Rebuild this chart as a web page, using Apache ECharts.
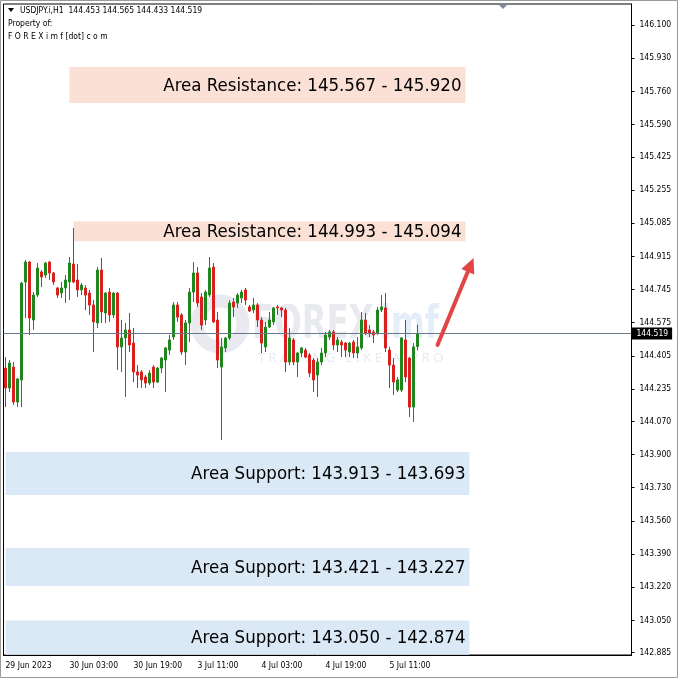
<!DOCTYPE html>
<html><head><meta charset="utf-8">
<script src="https://cdn.jsdelivr.net/npm/echarts@6/dist/echarts.min.js"></script>
<style>html,body{margin:0;padding:0;background:#fff;overflow:hidden}#c{width:678px;height:678px}</style>
</head><body><div id="c"></div>
<script>
// ---- data ----
const headerText = 'USDJPY.i,H1  144.453 144.565 144.433 144.519';
const firstBarTime = Date.UTC(2023, 5, 29, 11); // 29 Jun 2023 11:00
const openP  = [144.343,144.241,144.348,144.169,144.282,144.784,144.886,144.589,144.717,144.835,144.819,144.886,144.830,144.753,144.727,144.753,144.784,144.876,144.794,144.743,144.753,144.727,144.666,144.574,144.845,144.625,144.732,144.615,144.727,144.451,144.497,144.538,144.471,144.323,144.323,144.297,144.266,144.348,144.271,144.343,144.384,144.435,144.502,144.666,144.615,144.425,144.574,144.732,144.830,144.707,144.589,144.717,144.860,144.589,144.348,144.446,144.497,144.681,144.676,144.702,144.743,144.656,144.640,144.666,144.589,144.451,144.553,144.579,144.656,144.651,144.640,144.374,144.487,144.374,144.420,144.435,144.410,144.384,144.307,144.374,144.420,144.502,144.528,144.461,144.476,144.471,144.425,144.476,144.420,144.446,144.589,144.538,144.528,144.522,144.640,144.651,144.435,144.358,144.230,144.230,144.487,144.394,144.143,144.453];
const closeP = [144.241,144.369,144.169,144.287,144.778,144.886,144.599,144.717,144.855,144.809,144.881,144.830,144.784,144.717,144.753,144.794,144.881,144.784,144.743,144.768,144.717,144.666,144.579,144.845,144.630,144.727,144.615,144.727,144.451,144.497,144.538,144.461,144.323,144.307,144.282,144.266,144.317,144.271,144.343,144.394,144.446,144.487,144.666,144.604,144.425,144.574,144.732,144.830,144.676,144.563,144.732,144.855,144.579,144.384,144.451,144.497,144.676,144.656,144.717,144.732,144.691,144.635,144.666,144.589,144.471,144.553,144.589,144.651,144.651,144.640,144.374,144.497,144.374,144.420,144.446,144.399,144.317,144.282,144.374,144.420,144.512,144.528,144.461,144.487,144.461,144.435,144.471,144.420,144.451,144.589,144.522,144.522,144.512,144.640,144.656,144.446,144.358,144.271,144.282,144.497,144.297,144.143,144.451,144.519];
const lowP   = [144.143,144.220,144.154,144.143,144.143,144.599,144.512,144.538,144.707,144.758,144.804,144.794,144.768,144.702,144.702,144.676,144.691,144.778,144.707,144.717,144.640,144.615,144.425,144.548,144.574,144.574,144.579,144.599,144.333,144.323,144.195,144.425,144.271,144.241,144.241,144.241,144.256,144.241,144.266,144.317,144.220,144.410,144.487,144.579,144.410,144.358,144.476,144.681,144.656,144.538,144.563,144.707,144.574,144.343,143.974,144.425,144.487,144.604,144.651,144.676,144.666,144.630,144.625,144.553,144.420,144.425,144.548,144.563,144.615,144.604,144.323,144.358,144.358,144.297,144.399,144.394,144.297,144.220,144.195,144.358,144.399,144.487,144.435,144.425,144.399,144.399,144.399,144.394,144.394,144.435,144.512,144.502,144.471,144.512,144.630,144.425,144.241,144.205,144.220,144.220,144.271,144.092,144.067,144.433];
const highP  = [144.399,144.384,144.374,144.292,144.784,144.896,144.891,144.732,144.881,144.845,144.886,144.890,144.835,144.758,144.784,144.819,144.912,145.060,144.876,144.778,144.768,144.743,144.691,144.860,144.907,144.732,144.753,144.732,144.732,144.589,144.574,144.625,144.548,144.358,144.333,144.307,144.333,144.358,144.348,144.399,144.451,144.512,144.681,144.681,144.625,144.589,144.753,144.886,144.860,144.727,144.743,144.912,144.881,144.630,144.497,144.502,144.691,144.702,144.727,144.743,144.753,144.666,144.702,144.676,144.604,144.579,144.630,144.656,144.666,144.656,144.651,144.548,144.497,144.425,144.451,144.446,144.420,144.394,144.394,144.446,144.528,144.538,144.538,144.502,144.487,144.476,144.476,144.487,144.502,144.630,144.625,144.563,144.538,144.656,144.717,144.727,144.451,144.394,144.297,144.502,144.589,144.399,144.471,144.565];
const slotCount = 157;
const xTickIndex  = [0, 16, 32, 48, 64, 80, 96];
const xTickLabels = ['29 Jun 2023','30 Jun 03:00','30 Jun 19:00','3 Jul 11:00','4 Jul 03:00','4 Jul 19:00','5 Jul 11:00'];
const yTickValues = [146.100,145.930,145.760,145.590,145.425,145.255,145.085,144.915,144.745,144.575,144.405,144.235,144.070,143.900,143.730,143.560,143.390,143.220,143.050,142.885];
const yMin = 142.8732, yMax = 146.2076;
const currentPrice = 144.519;
const zoneLabels = ['Area Resistance: 145.567 - 145.920','Area Resistance: 144.993 - 145.094','Area Support: 143.913 - 143.693','Area Support: 143.421 - 143.227','Area Support: 143.050 - 142.874'];
const zoneKind = ['res','res','sup','sup','sup'];
const zoneHigh = [145.885, 145.094, 143.913, 143.421, 143.050];
const zoneLow  = [145.700, 144.993, 143.693, 143.227, 142.874];
const zoneFrom = [16, 17, 0, 0, 0];
const zoneTo   = [115, 115, 116, 116, 116];
const arrowFrom = [108, 144.461];
const arrowTo   = [117, 144.907];

// ---- categories (hourly bars, weekend skipped) ----
const MON = ['Jan','Feb','Mar','Apr','May','Jun','Jul','Aug','Sep','Oct','Nov','Dec'];
const categories = [];
let t = firstBarTime;
while (categories.length < slotCount) {
  const d = new Date(t);
  const wd = d.getUTCDay();
  if (wd !== 0 && wd !== 6) categories.push(d.getUTCDate() + ' ' + MON[d.getUTCMonth()] + ' ' + String(d.getUTCHours()).padStart(2,'0') + ':00');
  t += 3600000;
}
const candles = openP.map((o, i) => [o, closeP[i], lowP[i], highP[i]]);

const smallFont = "'DejaVu Sans Condensed','Liberation Sans',sans-serif";
const smallSize = 8.5;
const wmGray = 'rgba(140,150,180,0.2)';
const chart = echarts.init(document.getElementById('c'), null, {renderer: 'canvas'});
chart.setOption({
  animation: false,
  backgroundColor: '#fff',
  grid: {left: 3.5, right: 46.5, top: 4, bottom: 23, show: true, borderColor: '#000', borderWidth: 1, backgroundColor: 'transparent'},
  xAxis: {
    type: 'category', data: categories, boundaryGap: true,
    axisLine: {lineStyle: {color: '#000'}},
    axisTick: {alignWithLabel: true, length: 4, lineStyle: {color: '#000'}, interval: (i) => xTickIndex.includes(i)},
    axisLabel: {interval: (i) => xTickIndex.includes(i), align: 'left', margin: 6, color: '#000', fontSize: smallSize, fontFamily: smallFont,
      formatter: (v, i) => { const k = xTickIndex.indexOf(i); return k >= 0 ? xTickLabels[k] : ''; }},
    splitLine: {show: false}
  },
  yAxis: {
    type: 'value', position: 'right', min: yMin, max: yMax, scale: true,
    axisLine: {show: true, lineStyle: {color: '#000'}},
    axisTick: {show: true, length: 3, lineStyle: {color: '#000'}, customValues: yTickValues},
    axisLabel: {color: '#000', fontSize: smallSize, fontFamily: smallFont, margin: 8, customValues: yTickValues, formatter: (v) => v.toFixed(3)},
    splitLine: {show: false}
  },
  series: [
    {
      type: 'custom', z: 1, silent: true, clip: false,
      data: zoneLabels.map((s, i) => [zoneFrom[i], zoneHigh[i], zoneTo[i], zoneLow[i]]),
      encode: {x: [0, 2], y: [1, 3]},
      renderItem: (params, api) => {
        const i = params.dataIndex;
        const p0 = api.coord([api.value(0), api.value(1)]);
        const p1 = api.coord([api.value(2), api.value(3)]);
        return {type: 'group', children: [
          {type: 'rect', shape: {x: p0[0], y: p0[1], width: p1[0] - p0[0], height: p1[1] - p0[1]},
           style: {fill: zoneKind[i] === 'res' ? '#fbe1d5' : '#dbe9f7'}},
          {type: 'text', style: {text: zoneLabels[i], x: p1[0] - 4, y: (p0[1] + p1[1]) / 2 + 1, align: 'right', verticalAlign: 'middle',
            fontSize: 18.5, fontFamily: "'DejaVu Sans Condensed','Noto Sans',sans-serif", fill: '#000'}}
        ]};
      }
    },
    {
      type: 'candlestick', z: 3, data: candles, barWidth: 2,
      itemStyle: {color: '#1d871d', color0: '#d8201f', borderColor: '#1d871d', borderColor0: '#d8201f', borderWidth: 1},
      markLine: {
        silent: true, symbol: ['none', 'none'], animation: false,
        lineStyle: {color: '#667a8c', width: 1, type: 'solid'},
        label: {show: true, position: 'end', formatter: currentPrice.toFixed(3), color: '#fff', backgroundColor: '#000',
          padding: [2, 4, 1, 5], distance: 0, fontSize: smallSize, fontFamily: smallFont},
        data: [{yAxis: currentPrice}]
      }
    },
    {
      type: 'custom', z: 5, silent: true, clip: false,
      data: [[arrowFrom[0], arrowFrom[1], arrowTo[0], arrowTo[1]]],
      encode: {x: [0, 2], y: [1, 3]},
      renderItem: (params, api) => {
        const a = api.coord([api.value(0), api.value(1)]);
        const b = api.coord([api.value(2), api.value(3)]);
        const dx = b[0] - a[0], dy = b[1] - a[1], L = Math.hypot(dx, dy), ux = dx / L, uy = dy / L;
        const hl = 15, hw = 7;
        const base = [b[0] - ux * hl, b[1] - uy * hl];
        return {type: 'group', children: [
          {type: 'line', shape: {x1: a[0], y1: a[1], x2: base[0] + ux * 2, y2: base[1] + uy * 2}, style: {stroke: '#e04646', lineWidth: 4, lineCap: 'round'}},
          {type: 'polygon', shape: {points: [b, [base[0] - uy * hw, base[1] + ux * hw], [base[0] + uy * hw, base[1] - ux * hw]]}, style: {fill: '#e04646'}}
        ]};
      }
    }
  ],
  graphic: [
    {type: 'circle', z: 1, silent: true, shape: {cx: 220, cy: 324, r: 23}, style: {fill: 'none', stroke: wmGray, lineWidth: 13}},
    {type: 'text', z: 1, silent: true, x: 252, y: 326, scaleY: 1.3, style: {text: 'FOREX', x: 0, y: 0, verticalAlign: 'middle', fontSize: 36, fontWeight: 'bold', fontFamily: "'DejaVu Sans Condensed',sans-serif", fill: wmGray}},
    {type: 'text', z: 1, silent: true, x: 380, y: 326, scaleY: 1.3, style: {text: 'imf', x: 0, y: 0, verticalAlign: 'middle', fontSize: 36, fontWeight: 'bold', fontFamily: "'DejaVu Sans Condensed',sans-serif", fill: 'rgba(110,155,220,0.18)'}},
    {type: 'text', z: 1, silent: true, style: {text: 'T R A D I N G   L I K E   A   P R O', x: 258, y: 358, verticalAlign: 'middle', fontSize: 13, fontFamily: "'Noto Sans',sans-serif", fill: wmGray}},
    {type: 'polygon', z: 10, silent: true, shape: {points: [[8, 8], [14, 8], [11, 12]]}, style: {fill: '#000'}},
    {type: 'text', z: 10, silent: true, style: {text: headerText, x: 20, y: 11, verticalAlign: 'middle', fontSize: smallSize, fontFamily: smallFont, fill: '#000'}},
    {type: 'text', z: 10, silent: true, style: {text: 'Property of:', x: 8, y: 24, verticalAlign: 'middle', fontSize: smallSize, fontFamily: smallFont, fill: '#000'}},
    {type: 'text', z: 10, silent: true, style: {text: 'F O R E X i m f [dot] c o m', x: 8, y: 37, verticalAlign: 'middle', fontSize: smallSize, fontFamily: smallFont, fill: '#000'}},
    {type: 'polygon', z: 10, silent: true, shape: {points: [[498, 4], [508, 4], [503, 9]]}, style: {fill: '#7f8a96'}},
    {type: 'rect', z: 10, silent: true, shape: {x: 0.5, y: 0.5, width: 677, height: 677}, style: {fill: 'none', stroke: '#9a9a9a', lineWidth: 1}}
  ]
});
</script></body></html>
